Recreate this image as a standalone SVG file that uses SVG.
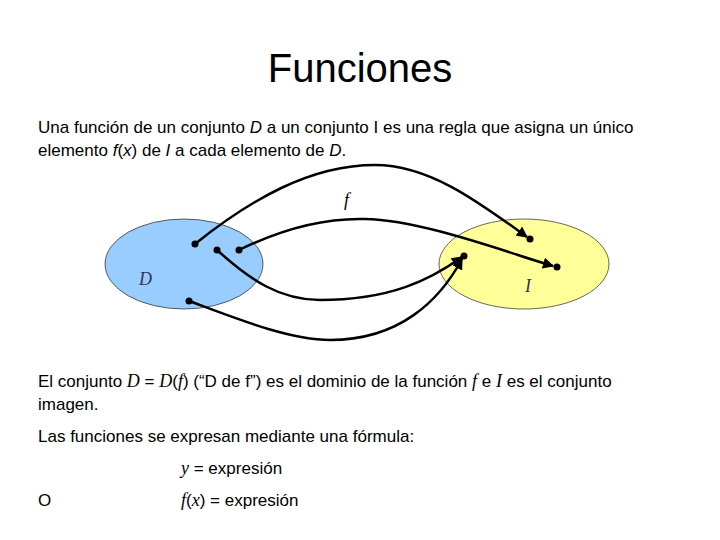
<svg xmlns="http://www.w3.org/2000/svg" width="720" height="540" viewBox="0 0 720 540">
<style>
.s{font-family:"Liberation Sans",Arial,sans-serif;font-size:17px;fill:#000}
.m{font-family:"Liberation Serif","Times New Roman",serif;font-style:italic}
.c{fill:none;stroke:#000;stroke-width:2.5}
</style>
<defs><marker id="a" viewBox="0 0 10 10" refX="9" refY="5" markerWidth="4.5" markerHeight="4.5" orient="auto"><path d="M0,0L10,5L0,10z" fill="#000"/></marker></defs>
<rect width="720" height="540" fill="#fff"/>
<text x="360" y="82" text-anchor="middle" style="font-family:'Liberation Sans',Arial,sans-serif;font-size:40px">Funciones</text>
<text class="s" x="38" y="133">Una función de un conjunto <tspan font-style="italic">D</tspan> a un conjunto I es una regla que asigna un único</text>
<text class="s" x="38" y="156">elemento <tspan font-style="italic">f</tspan>(<tspan font-style="italic">x</tspan>) de <tspan font-style="italic">I</tspan> a cada elemento de <tspan font-style="italic">D</tspan>.</text>
<g id="D"><ellipse cx="184" cy="264" rx="79" ry="45" fill="#99ccff" stroke="#000" stroke-width="0.6"/><text x="139" y="285" class="s m" style="font-size:18px;fill:#333366">D</text></g>
<g id="I"><ellipse cx="524" cy="264" rx="85" ry="45" fill="#ffff99" stroke="#000" stroke-width="0.6"/><text x="525" y="292" class="s m" style="font-size:18px;fill:#333366">I</text></g>
<text x="344" y="206" class="s m" style="font-size:18px">f</text>
<g id="connectors">
<path class="c" marker-end="url(#a)" d="M195,244 C250,200 310,165 375,165 C430,165 480,203 527,237"/>
<path class="c" marker-end="url(#a)" d="M239,250 C290,225 330,218 365,219 C420,220 500,250 553,266"/>
<path class="c" marker-end="url(#a)" d="M217,250 C250,280 280,300 320,300 C390,300 430,280 462,257"/>
<path class="c" marker-end="url(#a)" d="M189,301 C240,320 290,340 330,340 C400,340 440,300 462,259"/>
<g fill="#000"><circle cx="195" cy="244" r="3.5"/><circle cx="217" cy="250" r="3.5"/><circle cx="239" cy="250" r="3.5"/><circle cx="189" cy="301" r="3.5"/><circle cx="530" cy="239" r="3.5"/><circle cx="557" cy="267" r="3.5"/><circle cx="464" cy="256" r="3.5"/></g>
</g>
<text class="s" x="38" y="387">El conjunto <tspan class="m" font-size="18">D</tspan> = <tspan class="m" font-size="18">D</tspan>(<tspan class="m" font-size="18">f</tspan>) (“D de f”) es el dominio de la función <tspan class="m" font-size="18">f</tspan> e <tspan class="m" font-size="18">I</tspan> es el conjunto</text>
<text class="s" x="38" y="410">imagen.</text>
<text class="s" x="38" y="442">Las funciones se expresan mediante una fórmula:</text>
<text class="s" x="181" y="474"><tspan class="m" font-size="18">y</tspan> = expresión</text>
<text class="s" x="38" y="506">O</text>
<text class="s" x="181" y="506"><tspan class="m" font-size="18">f</tspan>(<tspan class="m" font-size="18">x</tspan>) = expresión</text>
</svg>
